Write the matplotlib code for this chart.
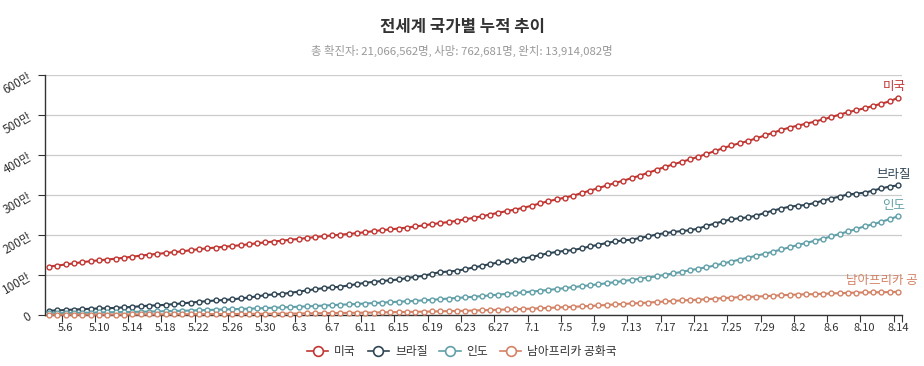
import matplotlib
matplotlib.use("Agg")
import matplotlib.pyplot as plt
from matplotlib.lines import Line2D
from matplotlib.transforms import Bbox
import numpy as np
import pandas as pd

plt.rcParams['font.family'] = ['Noto Sans CJK KR', 'DejaVu Sans']

# 날짜 (5.4 ~ 8.14)
dates = pd.date_range('2020-05-04', '2020-08-14')
date_labels = [f"{d.month}.{d.day}" for d in dates]

# 누적 확진자 (천 명)
us = [1212, 1237, 1263, 1292, 1321, 1347, 1367, 1387, 1409, 1431, 1458, 1484, 1508, 1527,
      1550, 1571, 1591, 1620, 1646, 1667, 1686, 1706, 1725, 1745, 1768, 1794, 1817, 1837,
      1859, 1881, 1902, 1924, 1950, 1970, 1988, 2007, 2026, 2047, 2070, 2096, 2121, 2141,
      2162, 2185, 2213, 2240, 2272, 2297, 2324, 2356, 2391, 2430, 2467, 2512, 2557, 2597,
      2637, 2681, 2733, 2790, 2845, 2890, 2936, 2985, 3048, 3110, 3171, 3238, 3299, 3359,
      3420, 3487, 3555, 3630, 3701, 3766, 3828, 3889, 3955, 4027, 4097, 4172, 4239, 4293,
      4351, 4418, 4488, 4557, 4626, 4686, 4736, 4783, 4834, 4889, 4948, 5010, 5068, 5118,
      5170, 5224, 5283, 5339, 5429]
brazil = [108, 115, 126, 136, 146, 156, 163, 169, 178, 190, 203, 218, 234, 241,
          255, 271, 291, 310, 330, 347, 363, 375, 392, 414, 438, 465, 498, 514,
          526, 556, 584, 615, 645, 673, 691, 707, 739, 772, 805, 828, 850, 867,
          888, 923, 955, 978, 1032, 1070, 1086, 1106, 1145, 1188, 1228, 1274, 1313, 1345,
          1369, 1408, 1453, 1497, 1543, 1578, 1604, 1623, 1668, 1713, 1755, 1800, 1840, 1864,
          1884, 1926, 1966, 2012, 2046, 2075, 2099, 2118, 2160, 2227, 2287, 2343, 2394, 2419,
          2443, 2484, 2552, 2610, 2662, 2708, 2733, 2751, 2802, 2859, 2912, 2962, 3013, 3035,
          3057, 3110, 3165, 3210, 3240]
india = [42, 46, 49, 53, 56, 59, 63, 67, 71, 74, 78, 82, 86, 90,
         96, 101, 106, 112, 118, 125, 131, 138, 145, 151, 158, 165, 173, 182,
         190, 198, 207, 216, 226, 236, 246, 257, 266, 276, 287, 298, 309, 321,
         333, 343, 354, 367, 381, 395, 411, 426, 440, 456, 473, 490, 509, 529,
         549, 567, 585, 605, 627, 649, 674, 697, 720, 743, 768, 794, 821, 850,
         878, 907, 937, 968, 1004, 1039, 1077, 1118, 1155, 1193, 1238, 1288, 1337, 1386,
         1435, 1482, 1531, 1583, 1638, 1695, 1750, 1803, 1855, 1908, 1964, 2027, 2088, 2153,
         2215, 2268, 2329, 2396, 2466]
safrica = [7.2, 7.6, 7.8, 8.2, 8.9, 9.4, 10.0, 10.7, 11.4, 12.1, 12.7, 13.5, 14.4, 15.5,
           16.4, 17.2, 18.0, 19.1, 20.1, 21.3, 22.6, 23.6, 24.3, 25.9, 27.4, 29.2, 30.9, 32.7,
           34.4, 35.8, 37.5, 40.8, 43.4, 45.9, 48.3, 50.9, 52.9, 55.4, 58.6, 61.9, 65.7, 70.0,
           73.5, 76.3, 80.4, 83.9, 87.7, 92.7, 97.3, 101.6, 106.1, 111.8, 118.4, 124.6, 131.8, 138.1,
           144.3, 151.2, 159.3, 168.1, 177.1, 187.9, 196.8, 205.7, 215.9, 224.7, 238.3, 250.7, 264.2, 276.2,
           287.8, 298.3, 311.0, 324.2, 337.6, 350.9, 364.3, 373.6, 381.8, 394.9, 408.1, 421.9, 434.2, 445.4,
           452.5, 459.8, 471.1, 482.2, 493.2, 503.3, 511.5, 516.9, 521.3, 529.9, 538.2, 545.5, 553.2, 559.9,
           563.6, 566.1, 568.9, 572.9, 579.1]

names = ['미국', '브라질', '인도', '남아프리카 공화국']
series = [us, brazil, india, safrica]
colors = ['#c23531', '#2f4554', '#61a0a8', '#d48265']

fig = plt.figure(figsize=(9.24, 3.66), dpi=100)
ax = fig.add_axes([45 / 924, 51 / 366, 857 / 924, 240 / 366])

# 오른쪽 끝 라벨은 원본처럼 잘려 보이게
label_clip = Bbox([[0, 0], [918, 366]])

x = np.arange(len(dates))
for name, vals, c in zip(names, series, colors):
    y = np.array(vals) / 10.0  # 만 단위
    ax.plot(x, y, color=c, lw=1.5, marker='o', ms=3.5, mfc='white',
            mec=c, mew=1.0, zorder=3, clip_on=False)
    t = ax.annotate(name, (x[-1], y[-1]), xytext=(-4, 11), textcoords='offset pixels',
                    ha='center', va='center', color=c, fontsize=9, annotation_clip=False)
    t.set_clip_box(label_clip)
    t.set_clip_on(True)

ax.set_xlim(-0.5, len(dates) - 0.5)
ax.set_ylim(0, 600)
ax.set_yticks(range(0, 601, 100))
ax.set_yticklabels(['0'] + [f'{v}만' for v in range(100, 601, 100)],
                   rotation=30, fontsize=8.5, color='#333333')
ax.yaxis.grid(True, color='#cccccc', lw=0.9)
ax.set_axisbelow(True)

major = list(np.arange(1.5, len(dates), 4)) + [len(dates) - 0.5]
ax.set_xticks(major)
ax.set_xticklabels([''] * len(major))
ax.set_xticks(range(2, len(dates), 4), minor=True)
ax.set_xticklabels([date_labels[i] for i in range(2, len(dates), 4)], minor=True,
                   fontsize=8, color='#333333')
ax.tick_params(axis='x', which='minor', length=0, pad=6)
ax.tick_params(axis='x', which='major', length=5, color='#333333')
ax.tick_params(axis='y', length=5, color='#333333', pad=3)

for s in ['top', 'right']:
    ax.spines[s].set_visible(False)
for s in ['left', 'bottom']:
    ax.spines[s].set_color('#333333')
    ax.spines[s].set_linewidth(1.0)

fig.text(0.5, 1 - 27 / 366, '전세계 국가별 누적 추이', ha='center', va='center',
         fontsize=12, fontweight='bold', color='#333333')
fig.text(0.5, 1 - 51 / 366, '총 확진자: 21,066,562명, 사망: 762,681명, 완치: 13,914,082명',
         ha='center', va='center', fontsize=8.2, color='#999999')

handles = [Line2D([0], [0], color=c, lw=1.2, marker='o', ms=7, mfc='white', mec=c, mew=1.2)
           for c in colors]
fig.legend(handles, names, loc='center', bbox_to_anchor=(0.5, 1 - 352 / 366), ncol=4,
           frameon=False, fontsize=8.5, handlelength=1.8, columnspacing=1.0,
           handletextpad=0.5, labelcolor='#333333')

fig.savefig('out.png', dpi=100)
